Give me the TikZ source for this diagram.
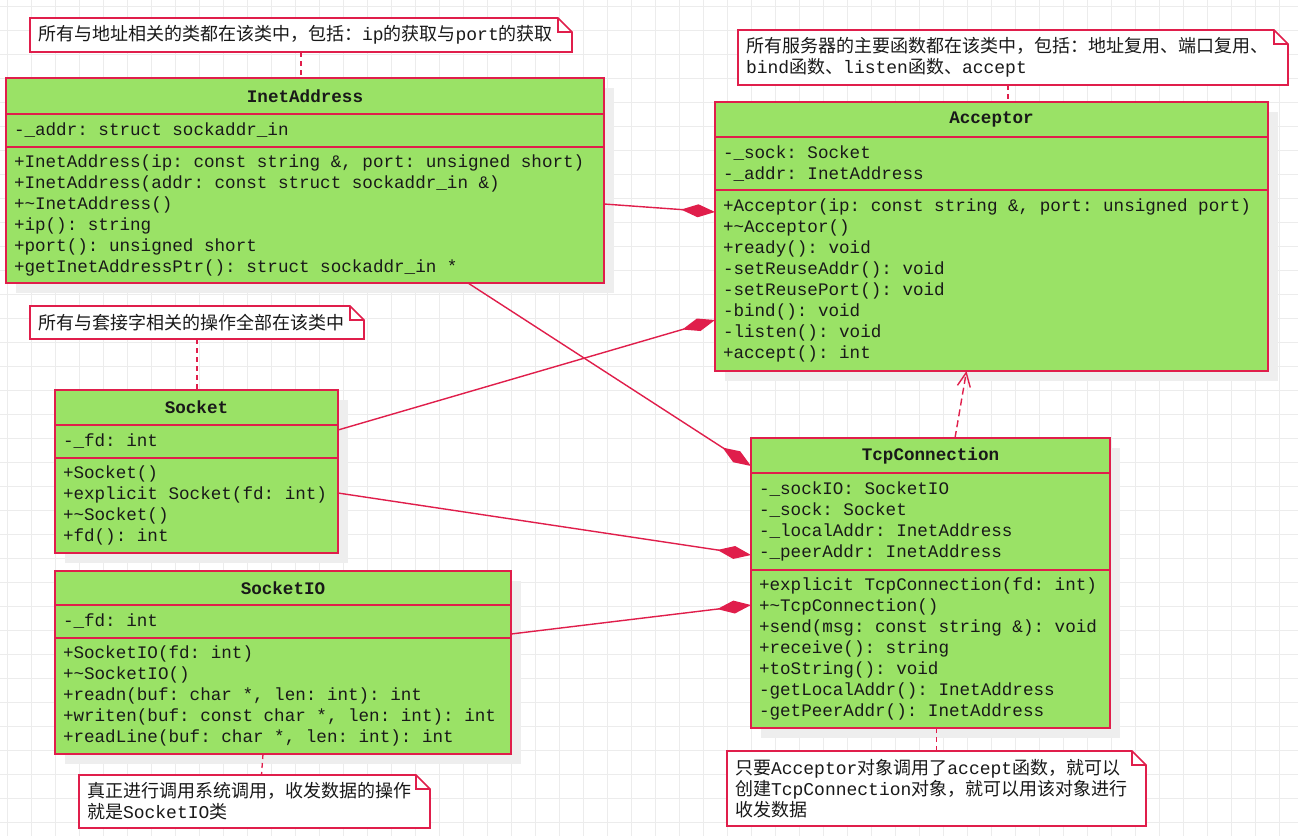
\documentclass[tikz,border=0pt]{standalone}
\usepackage{fontspec}
\setmonofont{Liberation Mono}
\newfontfamily\cjk{Noto Sans CJK SC}
\usetikzlibrary{arrows.meta, positioning, shadows, backgrounds}
\definecolor{umlgreen}{RGB}{154, 226, 102}
\definecolor{umlred}{RGB}{224, 30, 75}
\definecolor{gridgray}{RGB}{236, 236, 236}
\definecolor{shadegray}{RGB}{238, 238, 238}
\definecolor{inkgray}{RGB}{25, 25, 25}
\tikzset{
  clsbase/.style={rectangle, draw=umlred, fill=umlgreen, line width=1.6pt,
                  inner xsep=8pt, inner ysep=0pt, outer sep=0pt, text=inkgray,
                  execute at begin node={\spaceskip=0.6em\xspaceskip=0.6em},
                  drop shadow={shadow xshift=10pt, shadow yshift=-10pt, fill=shadegray, opacity=1}},
  clshead/.style={clsbase, text width=#1, align=center, minimum height=35pt,
                  font=\ttfamily\bfseries\fontsize{17.6}{21}\selectfont},
  clsbody/.style={clsbase, text width=#1, align=left,
                  font=\ttfamily\fontsize{17.6}{21}\selectfont},
  notebox/.style={rectangle, inner xsep=8pt, inner ysep=0pt, outer sep=0pt, anchor=north west,
                  text width=#1, align=left, text=inkgray, font=\cjk\fontsize{18}{21}\selectfont},
  noteline/.style={draw=umlred, line width=1.6pt, fill=white},
  notelink/.style={umlred, line width=1.3pt, dash pattern=on 5pt off 4pt},
  comp/.style={umlred, line width=1.4pt, -{Diamond[length=34pt, width=13pt]}},
  dep/.style={umlred, line width=1.4pt, dash pattern=on 7pt off 4pt,
              -{Straight Barb[length=14pt, width=13pt]}},
  gridline/.style={gridgray, line width=1pt},
}

\begin{document}
\begin{tikzpicture}[x=1pt, y=-1pt]
  \useasboundingbox (0,0) rectangle (1298,836);
  \begin{scope}[on background layer]
    \fill[white] (0,0) rectangle (1298,836);
    \foreach \gx in {7,31,...,1298}
      \draw[gridline] (\gx,0) -- (\gx,836);
    \foreach \gy in {6,30,...,836}
      \draw[gridline] (0,\gy) -- (1298,\gy);
  \end{scope}

  % InetAddress
  \node[clshead=582pt, minimum height=36pt, anchor=north west] (inet) at (6,78) {InetAddress};
  \node[clsbody=582pt, minimum height=33pt, below=0pt of inet] (inetA) {-\_addr: struct sockaddr\_in};
  \node[clsbody=582pt, minimum height=136pt, below=0pt of inetA] (inetM)
       {+InetAddress(ip: const string \&, port: unsigned short)\\
        +InetAddress(addr: const struct sockaddr\_in \&)\\
        +\textasciitilde InetAddress()\\
        +ip(): string\\
        +port(): unsigned short\\
        +getInetAddressPtr(): struct sockaddr\_in *};

  % Acceptor
  \node[clshead=537pt, anchor=north west] (acc) at (715,102) {Acceptor};
  \node[clsbody=537pt, minimum height=53pt, below=0pt of acc] (accA)
       {-\_sock: Socket\\
        -\_addr: InetAddress};
  \node[clsbody=537pt, minimum height=181pt, below=0pt of accA] (accM)
       {+Acceptor(ip: const string \&, port: unsigned port)\\
        +\textasciitilde Acceptor()\\
        +ready(): void\\
        -setReuseAddr(): void\\
        -setReusePort(): void\\
        -bind(): void\\
        -listen(): void\\
        +accept(): int};

  % Socket
  \node[clshead=267pt, anchor=north west] (sock) at (55,390) {Socket};
  \node[clsbody=267pt, minimum height=33pt, below=0pt of sock] (sockA) {-\_fd: int};
  \node[clsbody=267pt, minimum height=95pt, below=0pt of sockA] (sockM)
       {+Socket()\\
        +explicit Socket(fd: int)\\
        +\textasciitilde Socket()\\
        +fd(): int};

  % SocketIO
  \node[clshead=440pt, minimum height=34pt, anchor=north west] (sio) at (55,571) {SocketIO};
  \node[clsbody=440pt, minimum height=33pt, below=0pt of sio] (sioA) {-\_fd: int};
  \node[clsbody=440pt, minimum height=116pt, below=0pt of sioA] (sioM)
       {+SocketIO(fd: int)\\
        +\textasciitilde SocketIO()\\
        +readn(buf: char *, len: int): int\\
        +writen(buf: const char *, len: int): int\\
        +readLine(buf: char *, len: int): int};

  % TcpConnection
  \node[clshead=343pt, anchor=north west] (tcp) at (751,438) {TcpConnection};
  \node[clsbody=343pt, minimum height=97pt, below=0pt of tcp] (tcpA)
       {-\_sockIO: SocketIO\\
        -\_sock: Socket\\
        -\_localAddr: InetAddress\\
        -\_peerAddr: InetAddress};
  \node[clsbody=343pt, minimum height=158pt, below=0pt of tcpA] (tcpM)
       {+explicit TcpConnection(fd: int)\\
        +\textasciitilde TcpConnection()\\
        +send(msg: const string \&): void\\
        +receive(): string\\
        +toString(): void\\
        -getLocalAddr(): InetAddress\\
        -getPeerAddr(): InetAddress};

  % Notes
  \node[notebox=526pt, minimum height=34pt] (n1) at (30,18)
       {所有与地址相关的类都在该类中，包括：\texttt{ip}的获取与\texttt{port}的获取};
  \node[notebox=534pt, minimum height=55pt] (n2) at (738,30)
       {所有服务器的主要函数都在该类中，包括：地址复用、端口复用、\\
        \texttt{bind}函数、\texttt{listen}函数、\texttt{accept}};
  \node[notebox=318pt, minimum height=33pt] (n3) at (30,306)
       {所有与套接字相关的操作全部在该类中};
  \node[notebox=335pt, minimum height=53pt] (n4) at (79,775)
       {真正进行调用系统调用，收发数据的操作\\
        就是\texttt{SocketIO}类};
  \node[notebox=403pt, minimum height=75pt] (n5) at (727,751)
       {只要\texttt{Acceptor}对象调用了\texttt{accept}函数，就可以\\
        创建\texttt{TcpConnection}对象，就可以用该对象进行\\
        收发数据};
  \begin{scope}[on background layer]
    \foreach \n in {n1,n2,n3,n4,n5} {
      \draw[noteline] (\n.north west) -- ([xshift=-14pt]\n.north east)
        -- ([yshift=-14pt]\n.north east) -- (\n.south east) -- (\n.south west) -- cycle;
      \draw[noteline, fill=none] ([xshift=-14pt]\n.north east) |- ([yshift=-14pt]\n.north east);
    }
  \end{scope}

  % Note links
  \draw[notelink] (n1.south) -- (n1.south |- inet.north);
  \draw[notelink] ([xshift=-5pt]n2.south) -- ([xshift=-5pt]n2.south |- acc.north);
  \draw[notelink] (n3.south) -- (n3.south |- sock.north);
  \draw[notelink] ([xshift=-20pt]sioM.south) -- ([xshift=7pt]n4.north);
  \draw[notelink] (n5.north) -- (n5.north |- tcpM.south);

  % Compositions
  \draw[comp] ([yshift=11pt]inetM.east) -- ([yshift=68.5pt]accM.west);
  \draw[comp] ([yshift=11.5pt]sockA.east) -- ([yshift=-39.5pt]accM.west);
  \draw[comp] ([xshift=163pt]inetM.south) -- ([yshift=-10.5pt]tcp.west);
  \draw[comp] ([yshift=12.5pt]sockM.east) -- ([yshift=-33.5pt]tcpA.west);
  \draw[comp] ([yshift=-12.5pt]sioA.east) -- ([yshift=44pt]tcpM.west);
  \draw[dep] ([xshift=24.5pt]tcp.north) -- ([xshift=-25pt]accM.south);
\end{tikzpicture}
\end{document}
